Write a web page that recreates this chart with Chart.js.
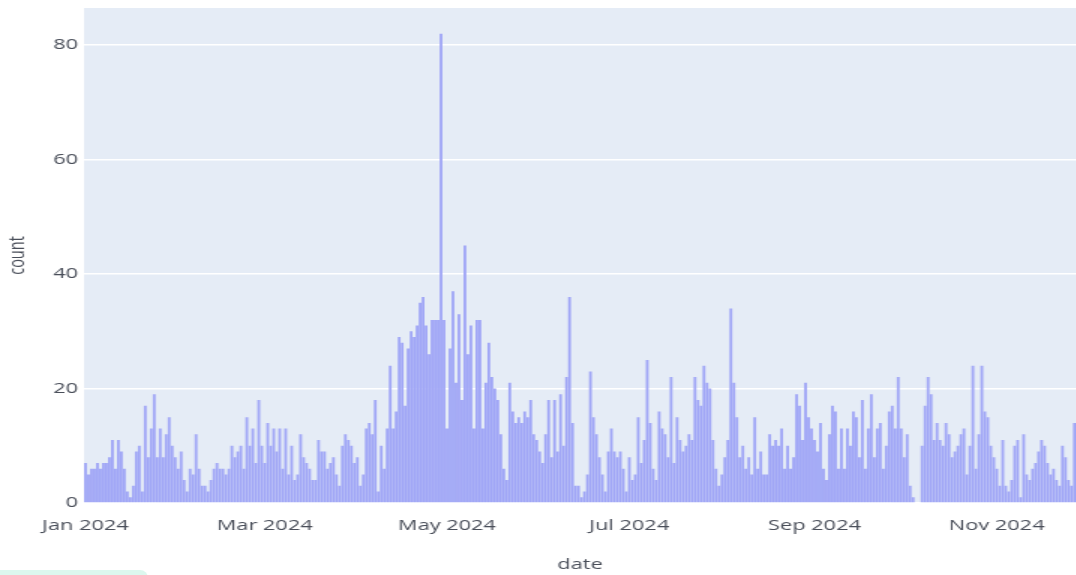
<!DOCTYPE html>
<html lang="en">
<head>
  <meta charset="UTF-8" />
  <title>count by date</title>
  <script src="https://cdn.jsdelivr.net/npm/chart.js"></script>
  <style>
    body { margin: 0; background: #fff; overflow: hidden; }
    /* the source figure is stretched sideways, so draw narrow and scale */
    #wrap { position: absolute; left: 0; top: 0; width: 717.33px; height: 575px; transform: scaleX(1.5); transform-origin: 0 0; }
    #tab { position: absolute; left: 0; top: 570px; width: 148px; height: 12px; background: #dcf7ee; border-radius: 0 8px 0 0; }
  </style>
</head>
<body>
<div id="wrap"><canvas id="countChart"></canvas></div>
<div id="tab"></div>

<script>
  // daily counts, one array per month of 2024
  const jan = [7,5,6,6,7,6,7,7,8,11,6,11,9,6,2,1,3,9,10,2,17,8,13,19,8,13,8,12,15,10,8];
  const feb = [6,9,4,2,6,5,12,6,3,3,2,4,6,7,6,6,5,6,10,8,9,10,6,15,10,13,7,18,10];
  const mar = [7,14,10,13,9,13,6,13,5,10,4,5,12,8,7,6,4,4,11,9,9,6,7,8,5,3,10,12,11,10,7];
  const apr = [8,3,5,13,14,12,18,2,10,6,13,24,13,16,29,28,17,27,30,29,31,35,36,31,26,32,32,32,82,32];
  const may = [13,27,37,21,33,18,45,26,31,13,32,32,13,21,28,22,20,18,12,6,4,21,16,14,15,14,16,15,18,12,11];
  const jun = [9,7,12,18,8,18,9,19,10,22,36,14,3,3,1,2,5,23,15,12,8,5,2,9,13,9,8,9,6,2];
  const jul = [8,4,5,15,7,11,25,14,6,4,16,13,12,8,22,7,15,11,9,10,12,11,22,18,17,24,21,20,11,6,3];
  const aug = [5,8,11,34,21,15,8,10,6,8,5,15,6,9,5,5,12,10,11,10,13,6,10,6,8,19,17,11,21,15,13];
  const sep = [11,9,14,6,4,12,17,16,6,13,6,13,10,16,15,8,18,6,13,19,8,13,14,6,10,16,17,13,22,13];
  const oct = [8,12,3,1,0,0,10,17,22,19,11,14,11,10,14,12,8,9,10,12,13,5,10,24,6,12,24,16,15,10,8];
  const nov = [6,3,11,3,2,4,10,11,1,12,5,4,6,7,9,11,10,7,5,6,4,3,10,8,4,3,14];

  const tickLabels = ['Jan 2024', 'Mar 2024', 'May 2024', 'Jul 2024', 'Sep 2024', 'Nov 2024'];
  const tickMonths = [0, 2, 4, 6, 8, 10];

  const months = [jan, feb, mar, apr, may, jun, jul, aug, sep, oct, nov];
  const counts = months.flat();
  const monthStart = [];
  let acc = 0;
  months.forEach(m => { monthStart.push(acc); acc += m.length; });

  const textColor = '#4a4f5a';
  const font = { family: "'Open Sans', sans-serif", size: 14.5 };

  const plotBg = {
    id: 'plotBg',
    beforeDraw(chart) {
      const { ctx, chartArea: a } = chart;
      ctx.save();
      ctx.fillStyle = '#e5ecf6';
      ctx.fillRect(a.left, a.top, a.right - a.left, a.bottom - a.top);
      ctx.restore();
    }
  };

  new Chart(document.getElementById('countChart'), {
    type: 'bar',
    data: {
      datasets: [{
        label: 'count',
        data: counts.map((c, i) => ({ x: i, y: c })),
        backgroundColor: '#a0a6f6',
        borderWidth: 0,
        barPercentage: 0.92,
        categoryPercentage: 1.0
      }]
    },
    options: {
      responsive: true,
      maintainAspectRatio: false,
      animation: false,
      layout: { padding: { top: 8, right: 0, bottom: 0, left: 0 } },
      plugins: {
        legend: { display: false },
        tooltip: { enabled: false }
      },
      scales: {
        x: {
          type: 'linear',
          offset: false,
          min: -0.5,
          max: counts.length - 0.5,
          grid: { display: false },
          border: { display: false },
          afterBuildTicks: s => { s.ticks = tickMonths.map(m => ({ value: monthStart[m] })); },
          afterFit: s => { s.height = 72; s.paddingLeft = 0; s.paddingRight = 0; },
          ticks: {
            autoSkip: false,
            maxRotation: 0,
            padding: 6,
            color: textColor,
            font,
            callback: (v, i) => tickLabels[i]
          },
          title: { display: true, text: 'date', color: textColor, font, padding: { top: 0, bottom: 1 } }
        },
        y: {
          min: 0,
          max: 86.5,
          grid: { color: '#ffffff', lineWidth: 1.5, drawTicks: false },
          border: { display: false },
          afterFit: s => { s.width = 56; s.paddingTop = 0; s.paddingBottom = 0; },
          ticks: { stepSize: 20, includeBounds: false, padding: 4, color: textColor, font },
          title: { display: true, text: 'count', color: textColor, font, padding: { top: 3, bottom: 0 } }
        }
      }
    },
    plugins: [plotBg]
  });
</script>
</body>
</html>
